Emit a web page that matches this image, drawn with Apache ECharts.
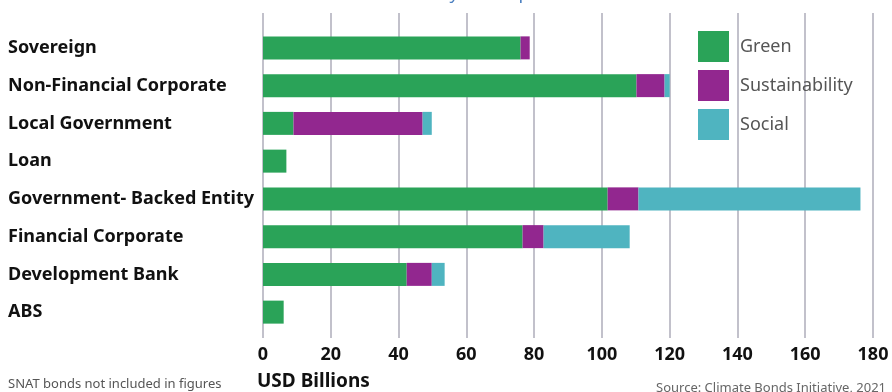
<!DOCTYPE html>
<html>
<head>
<meta charset="utf-8">
<script src="https://cdn.jsdelivr.net/npm/echarts@6/dist/echarts.min.js"></script>
<style>
  html, body { margin: 0; padding: 0; background: #fff; }
  #chart { width: 892px; height: 392px; }
</style>
</head>
<body>
<div id="chart"></div>
<script>
// issuer types, top to bottom
const categories = [
  'Sovereign',
  'Non-Financial Corporate',
  'Local Government',
  'Loan',
  'Government- Backed Entity',
  'Financial Corporate',
  'Development Bank',
  'ABS'
];

// USD billions per issuer type
const greenValues = [76.0, 110.2, 9.0, 6.9, 101.7, 76.6, 42.4, 6.1];
const sustainabilityValues = [2.7, 8.3, 38.1, 0, 9.1, 6.2, 7.4, 0];
const socialValues = [0, 1.5, 2.7, 0, 65.5, 25.4, 3.8, 0];

const xTicks = [0, 20, 40, 60, 80, 100, 120, 140, 160, 180];

const colors = { green: '#2aa358', sustainability: '#92278f', social: '#4fb4c0' };
const gridColor = '#aeacba';
const font = '"Noto Sans", sans-serif';

const chart = echarts.init(document.getElementById('chart'));

const option = {
  animation: false,
  title: [
    {
      // the chart title is cropped off at the top, only descenders show
      text: 'Volume by issuer profile',
      left: 370,
      top: -15,
      padding: 0,
      textStyle: { color: '#4a7fc0', fontSize: 18, fontWeight: 'normal', fontFamily: font }
    },
    {
      text: 'SNAT bonds not included in figures',
      left: 8,
      top: 378,
      padding: 0,
      textStyle: { color: '#555', fontSize: 13, fontWeight: 'normal', fontFamily: font }
    },
    {
      text: 'USD Billions',
      left: 257,
      top: 372,
      padding: 0,
      textStyle: { color: '#111', fontSize: 19, fontWeight: 'bold', fontFamily: font }
    },
    {
      text: 'Source: Climate Bonds Initiative, 2021',
      left: 656,
      top: 382,
      padding: 0,
      textStyle: { color: '#666', fontSize: 13, fontWeight: 'normal', fontFamily: font }
    }
  ],
  legend: {
    orient: 'vertical',
    left: 698,
    top: 31,
    padding: 0,
    itemWidth: 31,
    itemHeight: 31,
    itemGap: 8,
    icon: 'rect',
    textStyle: { color: '#555', fontSize: 18, fontFamily: font, padding: [0, 0, 0, 6] },
    data: ['Green', 'Sustainability', 'Social']
  },
  grid: [
    // backdrop grid: gridlines run a bit above and below the bars
    { left: 263, right: 19, top: 13, bottom: 54 },
    { left: 263, right: 19, top: 29, height: 302 }
  ],
  xAxis: [
    {
      gridIndex: 0,
      type: 'value',
      min: 0,
      max: 180,
      interval: 20,
      axisLine: { show: false },
      axisTick: { show: false },
      splitLine: { lineStyle: { color: gridColor, width: 1.5 } },
      axisLabel: {
        margin: 8,
        color: '#111',
        fontSize: 18,
        fontWeight: 'bold',
        fontFamily: font,
        formatter: v => (xTicks.includes(v) ? String(v) : '')
      }
    },
    {
      gridIndex: 1,
      type: 'value',
      min: 0,
      max: 180,
      interval: 20,
      show: false,
      splitLine: { show: false }
    }
  ],
  yAxis: [
    {
      gridIndex: 0,
      type: 'value',
      show: false,
      splitLine: { show: false }
    },
    {
      gridIndex: 1,
      type: 'category',
      inverse: true,
      data: categories,
      axisLine: { show: false },
      axisTick: { show: false },
      axisLabel: {
        align: 'left',
        margin: 255,
        padding: [3, 0, 0, 0],
        color: '#111',
        fontSize: 18,
        fontWeight: 'bold',
        fontFamily: font
      }
    }
  ],
  series: [
    {
      name: 'Green',
      type: 'bar',
      stack: 'total',
      xAxisIndex: 1,
      yAxisIndex: 1,
      barWidth: 23,
      itemStyle: { color: colors.green },
      data: greenValues
    },
    {
      name: 'Sustainability',
      type: 'bar',
      stack: 'total',
      xAxisIndex: 1,
      yAxisIndex: 1,
      barWidth: 23,
      itemStyle: { color: colors.sustainability },
      data: sustainabilityValues
    },
    {
      name: 'Social',
      type: 'bar',
      stack: 'total',
      xAxisIndex: 1,
      yAxisIndex: 1,
      barWidth: 23,
      itemStyle: { color: colors.social },
      data: socialValues
    }
  ]
};

chart.setOption(option);
window.addEventListener('resize', () => chart.resize());
</script>
</body>
</html>
